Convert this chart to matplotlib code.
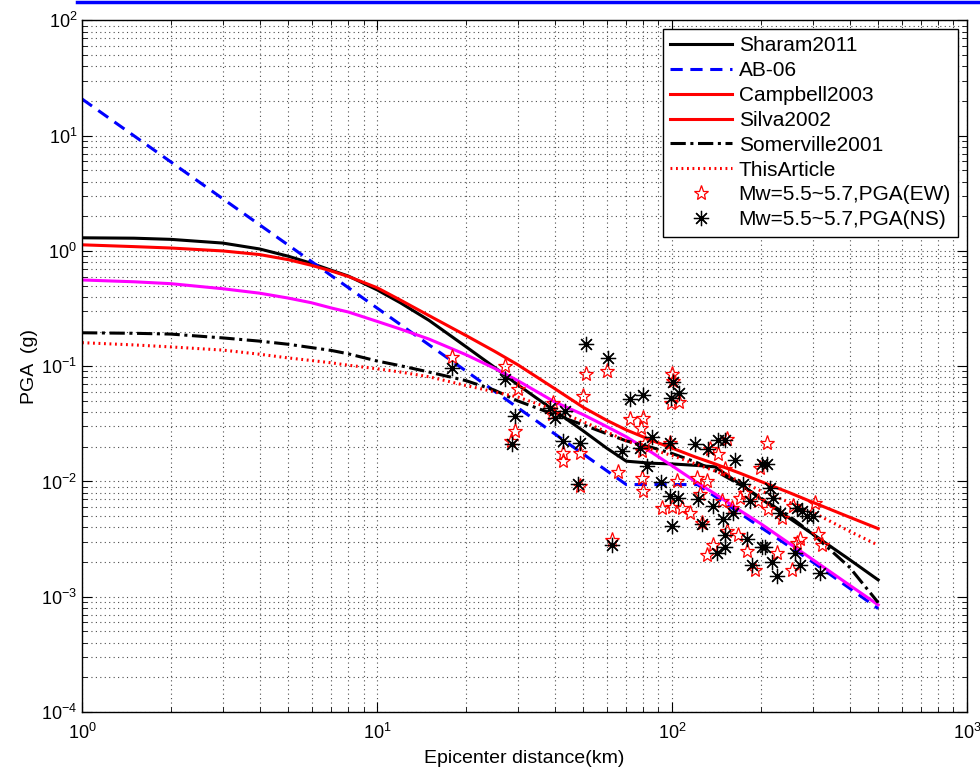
import numpy as np
import matplotlib.pyplot as plt
from matplotlib.lines import Line2D

plt.rcParams['font.family'] = ['Liberation Sans', 'DejaVu Sans']
plt.rcParams['mathtext.fontset'] = 'custom'
plt.rcParams['mathtext.rm'] = 'Liberation Sans'
plt.rcParams['mathtext.it'] = 'Liberation Sans'

# distances (km) at which the model curves are read
dist = [1, 1.5, 2, 3, 4, 5, 6, 7, 8, 10, 12, 15, 20, 25, 30, 40, 50, 60, 70, 85,
        100, 120, 140, 170, 200, 250, 300, 400, 500]

sharam2011 = [1.30, 1.29, 1.26, 1.17, 1.04, 0.90, 0.78, 0.68, 0.605, 0.46, 0.355, 0.25,
              0.148, 0.098, 0.069, 0.041, 0.0275, 0.0195, 0.0150, 0.0144, 0.0142,
              0.0138, 0.0134, 0.0095, 0.0071, 0.0048, 0.0035, 0.0021, 0.0014]
campbell2003 = [1.13, 1.09, 1.06, 1.0, 0.93, 0.84, 0.75, 0.67, 0.60, 0.48, 0.375, 0.275,
                0.185, 0.135, 0.103, 0.064, 0.044, 0.034, 0.028, 0.0228, 0.0195, 0.0163,
                0.0142, 0.0118, 0.0100, 0.0080, 0.0066, 0.0049, 0.0039]
silva2002 = [0.56, 0.54, 0.52, 0.47, 0.43, 0.39, 0.355, 0.32, 0.295, 0.245, 0.21, 0.172,
             0.126, 0.096, 0.075, 0.049, 0.038, 0.030, 0.0244, 0.018, 0.0137, 0.0100,
             0.0078, 0.0056, 0.0043, 0.0029, 0.0021, 0.00126, 0.00085]
somerville2001 = [0.195, 0.193, 0.19, 0.176, 0.165, 0.155, 0.145, 0.137, 0.128, 0.111,
                  0.101, 0.089, 0.075, 0.062, 0.050, 0.038, 0.031, 0.026, 0.0225, 0.0198,
                  0.0175, 0.0148, 0.0124, 0.0094, 0.0072, 0.0050, 0.0035, 0.0018,
                  0.00089]
this_article = [0.16, 0.153, 0.147, 0.138, 0.127, 0.118, 0.112, 0.107, 0.102, 0.095,
                0.089, 0.081, 0.068, 0.060, 0.054, 0.042, 0.033, 0.027, 0.0225, 0.019,
                0.0168, 0.0142, 0.0123, 0.0101, 0.0083, 0.0066, 0.0054, 0.0037, 0.0028]

# AB-06 has its own break points
ab06_dist = [1, 10, 70, 122, 200, 300, 500]
ab06 = [20.8, 0.32, 0.0094, 0.0094, 0.0040, 0.0020, 0.00079]

# recorded PGA, EW component
ew_dist = [18.0, 27.2, 30.1, 29.4, 28.5, 39.5, 39.2, 42.7, 42.7, 48.8, 51.1, 49.9,
           60.2, 65.6, 62.6, 48.8, 72.0, 79.7, 78.5, 100, 100.8, 99.2, 105.6,
           79.1, 81.0, 79.1, 79.7, 104, 98.5, 134.5, 153.5, 143.2, 151.4, 121.6,
           131.4, 92.5, 100, 108, 115, 124.4, 126.4, 159.7, 170.1, 209.8, 198.7,
           147.6, 176.6, 211.4, 195.7, 257.0, 305.5, 235.9, 271.6, 312.6, 322.4,
           265.3, 137.7, 167.4, 179.5, 191.0, 226.9, 255.2, 153.5, 131.4]
ew_pga = [0.120, 0.101, 0.064, 0.0275, 0.0225, 0.048, 0.0386, 0.0177, 0.0151, 0.0177,
          0.086, 0.055, 0.091, 0.0121, 0.0031, 0.0092, 0.0349, 0.0356, 0.0292, 0.086,
          0.075, 0.048, 0.049, 0.0184, 0.0216, 0.0107, 0.0083, 0.0101, 0.0216, 0.0192,
          0.0234, 0.0173, 0.0129, 0.0107, 0.0101, 0.0059, 0.0060, 0.0059, 0.0053,
          0.0078, 0.0044, 0.0059, 0.0072, 0.0216, 0.0131, 0.0068, 0.0080, 0.0058,
          0.0068, 0.0061, 0.0065, 0.0048, 0.0032, 0.0035, 0.0028, 0.0029, 0.0028,
          0.0034, 0.0025, 0.0017, 0.0024, 0.0017, 0.0037, 0.0023]

# recorded PGA, NS component
ns_dist = [18.0, 27.2, 29.4, 28.7, 38.6, 43.4, 40.1, 42.7, 48.8, 48.0, 51.1, 60.7,
           62.6, 67.7, 72.0, 79.7, 99.2, 105.6, 100.8, 85.5, 78.0, 98.5, 120, 143.2,
           151.4, 132.4, 163.5, 82.2, 91.8, 98.5, 104.7, 137.7, 122.5, 160.9, 100,
           126.4, 201.9, 209.8, 174.1, 214.8, 183.7, 219.8, 232.3, 265.3, 275.9,
           287.0, 300.6, 148.9, 151.4, 151.4, 179.5, 201.9, 206.6, 218.3, 186.6,
           142.2, 226.9, 261.2, 271.6, 317.6]
ns_pga = [0.097, 0.078, 0.037, 0.0212, 0.0435, 0.041, 0.0356, 0.0225, 0.0216, 0.0095,
          0.156, 0.118, 0.0028, 0.0184, 0.052, 0.056, 0.053, 0.058, 0.073, 0.0244,
          0.0196, 0.0216, 0.0212, 0.0229, 0.0229, 0.0192, 0.0154, 0.0137, 0.0099,
          0.0075, 0.0072, 0.0061, 0.0071, 0.0053, 0.0041, 0.0043, 0.0142, 0.0142,
          0.0095, 0.0088, 0.0068, 0.0072, 0.0053, 0.0059, 0.0056, 0.0050, 0.0050,
          0.0047, 0.0034, 0.0027, 0.0032, 0.0027, 0.0027, 0.0020, 0.0019, 0.0024,
          0.0015, 0.0024, 0.0019, 0.0016]

fig = plt.figure(figsize=(9.8, 7.78), dpi=100)
ax = fig.add_axes([0.0837, 0.0848, 0.903, 0.889])

ax.plot(dist, sharam2011, color='black', lw=2.2, label='Sharam2011')
ax.plot(ab06_dist, ab06, color='blue', lw=2.2, ls=(0, (4, 2.5)), label='AB-06')
ax.plot(dist, campbell2003, color='red', lw=2.2, label='Campbell2003')
ax.plot(dist, silva2002, color='magenta', lw=2.2, label='Silva2002')
ax.plot(dist, somerville2001, color='black', lw=2.2, ls=(0, (5, 1.5, 1, 1.5)), label='Somerville2001')
ax.plot(dist, this_article, color='red', lw=2.2, ls=(0, (0.6, 1.2)), label='ThisArticle')
ax.plot(ew_dist, ew_pga, ls='none', marker='*', ms=11, mfc='none', mec='red', mew=0.9,
        label='Mw=5.5~5.7,PGA(EW)')
ax.plot(ns_dist, ns_pga, ls='none', marker=(8, 2, 0), ms=11, color='black', mew=0.9,
        label='Mw=5.5~5.7,PGA(NS)')

ax.set_xscale('log')
ax.set_yscale('log')
ax.set_xlim(1, 1000)
ax.set_ylim(1e-4, 100)
ax.grid(True, which='both', ls=(0, (1, 3)), lw=0.8, color='0.3')
ax.tick_params(which='both', direction='in', top=True, right=True, labelsize=13)
ax.tick_params(axis='x', which='both', pad=8)
ax.tick_params(which='major', length=7)
ax.tick_params(which='minor', length=3.5)
for s in ax.spines.values():
    s.set_linewidth(1.0)
ax.set_xlabel('Epicenter distance(km)', fontsize=14, labelpad=5)
ax.set_ylabel('PGA  (g)', fontsize=14, labelpad=2)

handles, labels = ax.get_legend_handles_labels()
# in the original the Silva2002 legend key is drawn in red
handles[3] = Line2D([], [], color='red', lw=2.2)
leg = ax.legend(handles, labels, loc='upper right', fontsize=15, handlelength=3.0,
                handletextpad=0.3, labelspacing=0.28, borderpad=0.35,
                borderaxespad=0.42, fancybox=False, framealpha=1,
                edgecolor='black', numpoints=1)
leg.get_frame().set_linewidth(1.0)

# blue rule along the top edge
fig.add_artist(Line2D([0.079, 1.0], [0.998, 0.998], color='blue', lw=2.5,
                      transform=fig.transFigure))

fig.savefig('out.png', dpi=100)
